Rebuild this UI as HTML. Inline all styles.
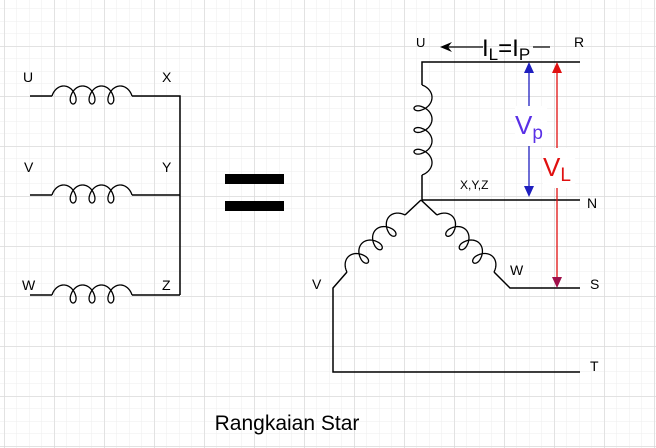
<!DOCTYPE html>
<html><head><meta charset="utf-8"><style>
html,body{margin:0;padding:0;background:#fff}
svg{display:block}
text{font-family:"Liberation Sans",Arial,sans-serif}
</style></head><body>
<svg id="s" width="656" height="448" viewBox="0 0 656 448" xmlns="http://www.w3.org/2000/svg">
<defs>
<pattern id="minor" width="12.5" height="12.5" patternUnits="userSpaceOnUse" x="4" y="-4">
<path d="M0 0H12.5M0 0V12.5" stroke="#eeeeee" stroke-width="1" fill="none"/>
</pattern>
<pattern id="major" width="50" height="50" patternUnits="userSpaceOnUse" x="4.5" y="-3.5">
<path d="M0 0H50M0 0V50" stroke="#d6d6d6" stroke-width="1" fill="none"/>
</pattern>
</defs>
<rect width="656" height="448" fill="url(#minor)"/>
<rect width="656" height="448" fill="url(#major)"/>

<g stroke="#000" stroke-width="1.5" fill="none" id="wires">
<path d="M30 96H52M132 96H180V295M30 195H52M132 195H180M30 295H52M132 295H180"/>
<path d="M580 62H422V85M422 175V200H580M421 200L405 215M347 272L333 288V372H580M421 200L437 215M494 272L510 288H580"/>
</g>
<g id="coils" stroke="#000" stroke-width="1.3" fill="none"></g>

<rect x="225" y="174" width="59" height="10" fill="#000"/>
<rect x="225" y="201" width="59" height="10" fill="#000"/>

<g font-size="14" fill="#000">
<text x="23" y="82">U</text><text x="162" y="82">X</text>
<text x="24" y="172">V</text><text x="162" y="172">Y</text>
<text x="22" y="290">W</text><text x="162" y="290">Z</text>
<text x="416" y="47" font-size="13">U</text>
<text x="574" y="47">R</text>
<text x="587" y="208">N</text>
<text x="590" y="289">S</text>
<text x="590" y="371">T</text>
<text x="312" y="289">V</text>
<text x="510" y="275">W</text>
<text x="460" y="189" font-size="12">X,Y,Z</text>
</g>

<path d="M445 47H483M533 47H550" stroke="#000" stroke-width="1.3"/>
<path d="M440 47L452 42L448 47L452 52Z" fill="#000"/>
<text x="482" y="56" font-size="24">I<tspan font-size="17" dy="4">L</tspan><tspan dy="-4">=I</tspan><tspan font-size="17" dy="4">P</tspan></text>

<path d="M529 72V187" stroke="#1f1fbf" stroke-width="1.3"/>
<path d="M529 62L524 73L534 73Z M529 197L524 186L534 186Z" fill="#1f1fbf"/>
<rect x="515" y="106" width="32" height="40" fill="#fff"/>
<text x="515" y="134" font-size="26" fill="#5a30e6">V<tspan font-size="19" dy="5">p</tspan></text>

<path d="M557 72V278" stroke="#e01010" stroke-width="1.3"/>
<path d="M557 62L552 73L562 73Z" fill="#e01010"/>
<path d="M557 288L552 277L562 277Z" fill="#a0104a"/>
<rect x="543" y="148" width="32" height="40" fill="#fff"/>
<text x="543" y="176" font-size="26" fill="#e01010">V<tspan font-size="19" dy="5">L</tspan></text>

<text x="287" y="430" font-size="21" text-anchor="middle">Rangkaian Star</text>
</svg>
<script>
function coil(ax,ay,bx,by,nx,ny){
  var dx=bx-ax,dy=by-ay,L=Math.hypot(dx,dy),ux=dx/L,uy=dy/L;
  var R=7,T=7*Math.PI,p=(L-2*R)/T,Ht=10,Hb=8,d="";
  for(var i=0;i<=320;i++){
    var t=T*i/320,s=p*t-R*Math.cos(t)+R,sn=Math.sin(t),h=sn*(sn>0?Ht:Hb);
    var x=ax+ux*s+nx*h,y=ay+uy*s+ny*h;
    d+=(i?"L":"M")+x.toFixed(2)+" "+y.toFixed(2);
  }
  var e=document.createElementNS("http://www.w3.org/2000/svg","path");
  e.setAttribute("d",d);document.getElementById("coils").appendChild(e);
}
coil(52,96,132,96,0,-1);
coil(52,195,132,195,0,-1);
coil(52,295,132,295,0,-1);
coil(422,85,422,175,1,0);
var k=Math.SQRT1_2;
coil(405,215,347,272,-k,-k);
coil(437,215,494,272,k,-k);
</script>
</body></html>
